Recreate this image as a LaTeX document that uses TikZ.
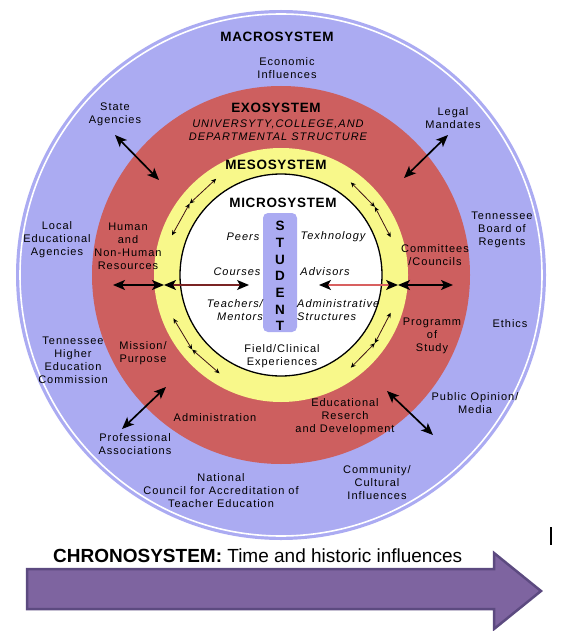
\documentclass[tikz,border=0pt]{standalone}
\usepackage{fontspec}
\setmainfont{Liberation Sans}
\newfontfamily\labfont[LetterSpace=9]{Liberation Sans}
\newfontfamily\ttlfont[LetterSpace=5]{Liberation Sans}
\usetikzlibrary{arrows.meta}
\definecolor{macro}{HTML}{ABABF2}
\definecolor{exo}{HTML}{CD5F5F}
\definecolor{meso}{HTML}{F8F88A}
\definecolor{chrono}{HTML}{7E64A0}
\definecolor{chronob}{HTML}{5C4A80}
\definecolor{redline}{HTML}{D86060}
\definecolor{darkred}{HTML}{7A2424}
\definecolor{ringarr}{HTML}{401414}
\begin{document}
\begin{tikzpicture}[x=1pt,y=-1pt,
  lab/.style={font=\labfont\fontsize{11}{13}\selectfont, align=center, inner sep=0pt},
  ilab/.style={font=\labfont\itshape\fontsize{11}{13}\selectfont, align=center, inner sep=0pt},
  ttl/.style={font=\ttlfont\bfseries\fontsize{13.5}{15}\selectfont, inner sep=0pt},
  big/.style={line width=1.7pt, draw=black, {Stealth[length=12pt,width=10pt,inset=3pt]}-{Stealth[length=12pt,width=10pt,inset=3pt]}},
  inner/.style={line width=1.3pt, {Stealth[length=12pt,width=10pt,inset=3pt,color=black]}-{Stealth[length=12pt,width=10pt,inset=3pt,color=black]}},
  small/.style={line width=0.8pt, draw=ringarr, {Stealth[length=5pt,width=4.5pt,color=black]}-{Stealth[length=5pt,width=4.5pt,color=black]}}]

\useasboundingbox (0,0) rectangle (560,631);
\fill[white] (0,0) rectangle (560,631);

% rings
\coordinate (C) at (281,275);
\fill[macro] (C) circle[radius=265];
\draw[white, line width=1.6pt] (C) circle[radius=261];
\fill[exo] (C) circle[radius=189];
\fill[meso] (C) circle[radius=127];
\draw[fill=white, line width=1.3pt] (C) circle[radius=101];

% student box
\node[fill=macro, rounded corners=5pt, minimum width=34pt, minimum height=119pt, inner sep=0pt] (stubox) at (280,272.5) {};
\node[font=\ttlfont\bfseries\fontsize{13.5}{16.7}\selectfont, align=center, inner sep=0pt] (stu) at (280,276) {S\\T\\U\\D\\E\\N\\T};

% titles
\node[ttl] (macrot) at (277,37) {MACROSYSTEM};
\node[ttl] (exot) at (276,108) {EXOSYSTEM};
\node[ttl] (mesot) at (276,165) {MESOSYSTEM};
\node[ttl] (microt) at (283,203) {MICROSYSTEM};
\node[ilab] (exosub) at (278,130.5) {UNIVERSYTY,COLLEGE,AND\\DEPARTMENTAL STRUCTURE};

% macrosystem labels
\node[lab] (econ) at (287,68) {Economic\\Influences};
\node[lab] (state) at (115,114) {State\\Agencies};
\node[lab] (legal) at (453,118) {Legal\\Mandates};
\node[lab] (local) at (57,240) {Local\\Educational\\Agencies};
\node[lab] (tbr) at (502,230) {Tennessee\\Board of\\Regents};
\node[lab] (ethics) at (510,324) {Ethics};
\node[lab] (thec) at (73,360) {Tennessee\\Higher\\Education\\Commission};
\node[lab] (public) at (475,403) {Public Opinion/\\Media};
\node[lab] (prof) at (135,444) {Professional\\Associations};
\node[lab] (ncate) at (221,491) {National\\Council for Accreditation of\\Teacher Education};
\node[lab] (comm) at (377,483) {Community/\\Cultural\\Influences};

% exosystem labels
\node[lab] (human) at (128,246) {Human\\and\\Non-Human\\Resources};
\node[lab] (committees) at (435,255) {Committees\\/Councils};
\node[lab] (mission) at (143,353) {Mission/\\Purpose};
\node[lab] (programm) at (432,336) {Programm\\of\\Study};
\node[lab] (admin) at (215,418) {Administration};
\node[lab] (edres) at (345,417) {Educational\\Reserch\\and Development};

% microsystem labels
\node[ilab] (peers) at (243,237) {Peers};
\node[ilab] (texh) at (333,237) {Texhnology};
\node[ilab] (courses) at (237,272) {Courses};
\node[ilab] (advisors) at (325,272) {Advisors};
\node[ilab, align=right, anchor=east] (teachers) at (263,310) {Teachers/\\Mentors};
\node[ilab, align=left, anchor=west] (admstr) at (297,310) {Administrative\\Structures};
\node[lab] (field) at (282,356) {Field/Clinical\\Experiences};

% horizontal arrows
\coordinate (hl1) at (113,285);
\coordinate (hl2) at (164,285);
\coordinate (hl3) at (249,285);
\coordinate (hr1) at (319,285);
\coordinate (hr2) at (398,285);
\coordinate (hr3) at (453,285);
\draw[big] (hl1) -- (hl2);
\draw[inner, draw=darkred] (hl2) -- (hl3);
\draw[inner, draw=redline] (hr1) -- (hr2);
\draw[big] (hr2) -- (hr3);

% diagonal arrows
\coordinate (sa1) at (115,135);
\coordinate (sa2) at (159,180);
\coordinate (lm1) at (448,135);
\coordinate (lm2) at (404,178);
\coordinate (pa1) at (166,387);
\coordinate (pa2) at (122,429);
\coordinate (po1) at (387,391);
\coordinate (po2) at (433,435);
\draw[big] (sa1) -- (sa2);
\draw[big] (lm1) -- (lm2);
\draw[big] (pa1) -- (pa2);
\draw[big] (po1) -- (po2);

% small arrows in the mesosystem ring
\begin{scope}[shift={(C)}]
  \foreach \a/\m/\b [count=\i] in {124/142/160, 19/36/53, 202/220/238, 307/324/341}{
    \coordinate (ra\i) at (-\a:116);
    \coordinate (rm\i) at (-\m:116);
    \coordinate (rb\i) at (-\b:116);
    \draw[small] (ra\i) -- (rm\i);
    \draw[small] (rm\i) -- (rb\i);
  }
\end{scope}

% chronosystem arrow
\draw[fill=chrono, draw=chronob, line width=2.5pt, line join=miter]
  (27,569) -- (494,569) -- (494,553) -- (541,591) -- (494,629) -- (494,609) -- (27,609) -- cycle;
\node[inner sep=0pt, anchor=west, font=\fontsize{19}{21}\selectfont] (chrono) at (53,556) {\textbf{CHRONOSYSTEM:} Time and historic influences};
\coordinate (bar1) at (551,527);
\coordinate (bar2) at (551,545);
\draw[line width=1.2pt] (bar1) -- (bar2);
\end{tikzpicture}
\end{document}
